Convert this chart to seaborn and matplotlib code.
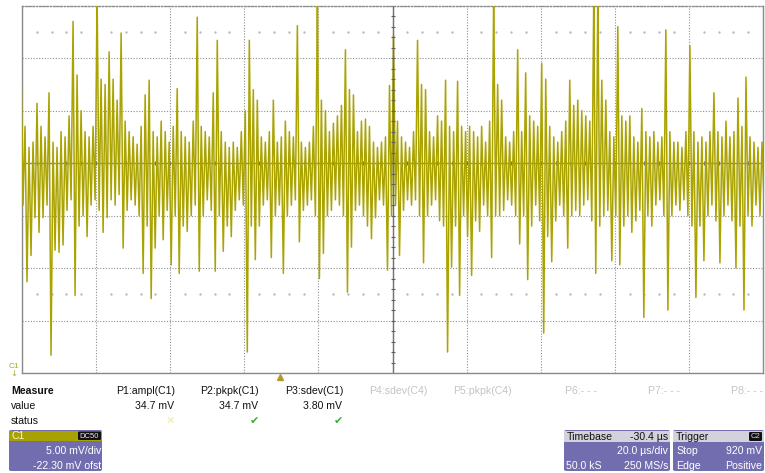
import numpy as np
import pandas as pd
import seaborn as sns
import matplotlib
matplotlib.use("Agg")
import matplotlib.pyplot as plt
from matplotlib.patches import FancyBboxPatch, Rectangle

# ---------------- data (mV per screen column) ----------------
upper_mv = [
    10.0, 3.5, 1.5, 2.0, 5.7, 3.5, 2.5, 6.7, 2.0, 1.5,
    3.0, 2.5, 4.5, 13.5, 8.4, 5.0, 3.0, 2.5, 3.5, 16.0,
    8.0, 7.5, 10.6, 8.0, 6.0, 12.4, 4.0, 3.0, 2.5, 1.8,
    3.5, 6.5, 7.9, 3.0, 2.5, 4.0, 3.0, 2.0, 3.5, 7.1,
    3.0, 2.5, 2.0, 4.0, 13.9, 3.5, 3.0, 2.5, 6.7, 11.7,
    3.0, 2.0, 1.5, 2.0, 1.5, 3.0, 5.0, 11.7, 7.0, 6.0,
    2.5, 2.0, 3.0, 6.0, 2.0, 2.5, 4.0, 3.0, 2.5, 13.1,
    2.0, 1.5, 2.0, 3.5, 16.0, 6.0, 5.0, 3.0, 3.8, 4.5,
    5.5, 10.8, 7.0, 6.5, 3.0, 4.0, 4.2, 3.5, 2.0, 1.5,
    2.0, 2.5, 7.4, 12.2, 4.0, 2.5, 2.0, 1.5, 3.0, 11.7,
    7.5, 7.0, 3.0, 2.5, 4.5, 4.0, 7.9, 3.5, 3.0, 7.8,
    3.5, 3.0, 3.5, 3.0, 2.5, 3.5, 2.0, 4.0, 16.0, 7.5,
    6.0, 2.5, 2.0, 3.0, 10.8, 3.0, 8.6, 4.5, 4.0, 3.5,
    9.5, 8.0, 3.5, 2.5, 2.0, 3.0, 4.0, 7.9, 5.5, 6.0,
    5.0, 4.5, 4.0, 16.0, 16.0, 7.9, 6.0, 3.0, 2.5, 13.0,
    4.5, 4.0, 4.5, 2.5, 2.0, 5.2, 3.0, 2.5, 3.0, 2.0,
    2.5, 12.7, 3.0, 2.0, 2.0, 1.5, 3.0, 11.2, 3.0, 2.0,
    2.5, 2.0, 3.0, 6.7, 3.0, 2.5, 4.0, 2.5, 3.0, 6.2,
    3.5, 8.2, 2.5, 2.0, 1.5, 2.0,
]
lower_mv = [
    -4.0, -11.3, -8.8, -5.2, -6.6, -5.2, -4.0, -18.3, -8.3, -8.5,
    -7.8, -4.5, -3.5, -12.6, -6.0, -5.0, -7.0, -4.0, -3.5, -4.5,
    -6.6, -5.2, -3.5, -4.0, -3.0, -8.1, -4.5, -3.5, -4.0, -5.0,
    -10.5, -6.0, -12.9, -8.1, -5.0, -7.3, -4.5, -9.7, -5.0, -10.5,
    -6.0, -6.5, -5.0, -4.0, -10.3, -5.0, -3.5, -4.5, -10.3, -5.0,
    -8.4, -6.0, -7.0, -4.5, -3.5, -4.0, -18.0, -6.0, -9.2, -6.0,
    -4.0, -3.5, -9.0, -5.0, -4.0, -10.5, -5.0, -4.0, -3.5, -7.5,
    -4.5, -4.0, -3.5, -5.0, -11.0, -8.6, -5.0, -4.5, -3.5, -4.0,
    -5.0, -12.3, -8.0, -4.5, -4.0, -5.0, -6.0, -7.2, -5.2, -3.5,
    -4.0, -10.2, -5.0, -4.0, -8.8, -4.5, -3.5, -4.0, -3.5, -5.0,
    -9.5, -5.0, -4.0, -3.5, -5.5, -6.0, -18.0, -9.9, -6.0, -12.6,
    -5.0, -7.0, -10.7, -5.5, -6.5, -4.0, -5.0, -9.0, -5.0, -5.0,
    -4.5, -3.5, -4.0, -5.0, -7.7, -5.0, -11.1, -6.0, -4.0, -5.5,
    -16.2, -7.0, -9.4, -5.5, -4.0, -5.0, -8.1, -5.0, -4.5, -5.0,
    -4.0, -3.5, -5.5, -10.5, -6.0, -5.0, -4.5, -9.3, -5.0, -9.7,
    -6.0, -5.0, -6.6, -5.5, -4.5, -14.7, -5.0, -6.0, -4.0, -3.5,
    -5.0, -14.0, -5.0, -4.0, -4.5, -3.5, -5.0, -6.0, -12.8, -6.0,
    -9.3, -5.0, -4.0, -5.5, -9.5, -5.0, -4.0, -5.5, -10.0, -6.0,
    -14.0, -5.0, -6.0, -4.0, -5.0, -3.5,
]
time_span_us = [-100.0, 100.0]     # 20 us/div, 10 div
volt_span_mv = [-20.0, 15.0]       # 5 mV/div, visible 7 div
trigger_time_us = -30.4

measure_names = ["P1:ampl(C1)", "P2:pkpk(C1)", "P3:sdev(C1)", "P4:sdev(C4)",
                 "P5:pkpk(C4)", "P6:- - -", "P7:- - -", "P8:- - -"]
measure_values = ["34.7 mV", "34.7 mV", "3.80 mV"]
measure_status = ["\u2715", "\u2714", "\u2714"]

# ---------------- build trace ----------------
n = len(upper_mv)
t_col = np.linspace(time_span_us[0], time_span_us[1], n)
dt = (t_col[1] - t_col[0]) * 0.25
tt, vv = [], []
for i in range(n):
    tt += [t_col[i] - dt, t_col[i] + dt]
    vv += [upper_mv[i], lower_mv[i]]
trace = pd.DataFrame({"t": tt, "v": vv})

# ---------------- figure ----------------
sns.set_style("white")
plt.rcParams["font.family"] = ["Liberation Sans", "DejaVu Sans"]
W, H = 765, 473
fig = plt.figure(figsize=(W / 100, H / 100), dpi=100)
L, R, T, B = 22, 763, 5.7, 373
ax = fig.add_axes([L / W, 1 - B / H, (R - L) / W, (B - T) / H])

TRACE = "#aaa300"
GRID = "#8f8f8f"

ax.set_xlim(*time_span_us)
ax.set_ylim(*volt_span_mv)
ax.set_xticks(np.arange(-100, 101, 20))
ax.set_yticks(np.arange(-20, 16, 5))
ax.set_xticklabels([])
ax.set_yticklabels([])
ax.tick_params(length=0)
ax.grid(True, linestyle=(0, (1, 1.5)), color=GRID, linewidth=0.8)
for s in ax.spines.values():
    s.set_color("#8a8a8a")
    s.set_linewidth(1.0)
ax.spines["top"].set_linestyle((0, (1, 1.5)))

# centre lines
ax.axhline(0, color="#8a8a8a", lw=1.0, zorder=1)
ax.axvline(0, color="#707070", lw=1.0, zorder=4)
sub_t = np.arange(-96, 100, 4)
ax.scatter(sub_t, np.zeros_like(sub_t), marker="|", s=6, color="#707070", lw=0.8, zorder=1)
sub_v = np.arange(-19, 15, 1)
ax.scatter(np.zeros_like(sub_v), sub_v, marker="_", s=10, color="#606060", lw=0.8, zorder=5)
dots_t = np.array([x for x in sub_t if x % 20 != 0])
for yv in (12.5, -12.5):
    ax.scatter(dots_t, np.full(dots_t.shape, yv), marker=".", s=2, color="#b8b8b8", zorder=1)

sns.lineplot(data=trace, x="t", y="v", sort=False, estimator=None,
             color=TRACE, linewidth=1.1, ax=ax, zorder=3)
ax.set_xlabel("")
ax.set_ylabel("")
ax.set_xlim(*time_span_us)
ax.set_ylim(*volt_span_mv)

ax.plot([trigger_time_us], [-0.012], marker="^", ms=5, color="#b39a2e",
        transform=ax.get_xaxis_transform(), clip_on=False)

def ftxt(x, y, s, **kw):
    kw.setdefault("fontsize", 7.6)
    kw.setdefault("va", "center")
    fig.text(x / W, 1 - y / H, s, **kw)

ftxt(14, 366, "C1", color="#b0a830", fontsize=6, ha="center")
ftxt(14, 374, "\u2193", color="#b0a830", fontsize=6, ha="center", family=["DejaVu Sans"])

ftxt(11, 390.5, "Measure", fontweight="bold", color="#111111")
ftxt(11, 405.5, "value", color="#111111")
ftxt(11, 421, "status", color="#111111")
rights = [175, 259, 343, 428, 512, 597, 680, 763]
for k, (nm, xr) in enumerate(zip(measure_names, rights)):
    ftxt(xr, 390.5, nm, ha="right", color="#111111" if k < 3 else "#c4c4c4")
for xr, val in zip(rights, measure_values):
    ftxt(xr - 1, 405.5, val, ha="right", color="#111111")
status_x = [170, 254, 338]
status_col = ["#efe9a0", "#3aa93a", "#3aa93a"]
for xs, st, c in zip(status_x, measure_status, status_col):
    ftxt(xs, 421, st, ha="center", color=c, family=["DejaVu Sans"], fontsize=8)

PURPLE = "#716daf"
def box(x0, y0, x1, y1, color, rad=2.5):
    p = FancyBboxPatch((x0 / W, 1 - y1 / H), (x1 - x0) / W, (y1 - y0) / H,
                       boxstyle=f"round,pad=0,rounding_size={rad / W}",
                       transform=fig.transFigure, facecolor=color, edgecolor="none")
    fig.add_artist(p)

def rect(x0, y0, x1, y1, color):
    fig.add_artist(Rectangle((x0 / W, 1 - y1 / H), (x1 - x0) / W, (y1 - y0) / H,
                             transform=fig.transFigure, facecolor=color, edgecolor="none"))

box(9, 430, 102, 471, PURPLE)
rect(9, 431, 102, 441, "#a8a200")
box(78, 431.5, 101, 440, "#111111", rad=1.5)
ftxt(12, 436, "C1", color="#f4f4e0")
ftxt(89.5, 436, "DC50", color="#e8e8e8", fontsize=5.5, ha="center")
ftxt(101, 450.5, "5.00 mV/div", color="white", ha="right")
ftxt(101, 465.5, "-22.30 mV ofst", color="white", ha="right")

box(564, 430, 670, 471, PURPLE)
rect(564, 431, 670, 442, "#d3d2dc")
ftxt(567, 436.5, "Timebase", color="#111111")
ftxt(668, 436.5, "-30.4 \u00b5s", color="#111111", ha="right")
ftxt(668, 451, "20.0 \u00b5s/div", color="white", ha="right")
ftxt(566, 466, "50.0 kS", color="white")
ftxt(668, 466, "250 MS/s", color="white", ha="right")

box(673, 430, 764, 471, PURPLE)
rect(673, 431, 764, 442, "#d3d2dc")
box(749, 432, 762, 441, "#111111", rad=1.5)
ftxt(676, 436.5, "Trigger", color="#111111")
ftxt(755.5, 436.5, "C2", color="#dddddd", fontsize=5.5, ha="center")
ftxt(676, 451, "Stop", color="white")
ftxt(762, 451, "920 mV", color="white", ha="right")
ftxt(676, 466, "Edge", color="white")
ftxt(762, 466, "Positive", color="white", ha="right")

fig.savefig("out.png", dpi=100)
